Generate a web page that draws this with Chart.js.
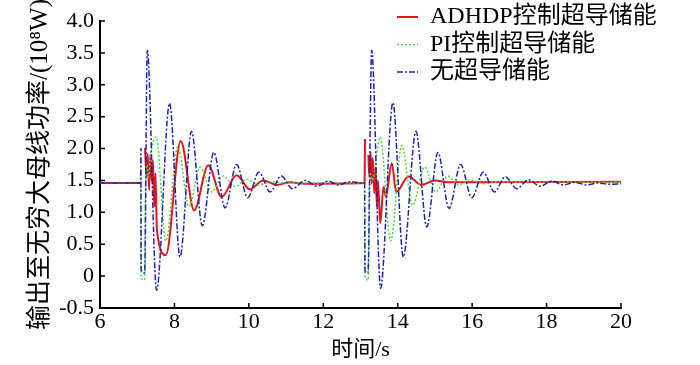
<!DOCTYPE html>
<html>
<head>
<meta charset="utf-8">
<script src="https://cdn.jsdelivr.net/npm/chart.js"></script>
<style>
  html, body { margin: 0; padding: 0; background: #fff; }
</style>
</head>
<body>
<canvas id="powerChart" width="700" height="365"></canvas>
<script>
// time (s) / power (1e8 W), peaks and troughs mostly
// null = red hidden under the others while the fault lasts
const redTime = [6, 7.09, 7.095, 7.21, 7.25, 7.28, 7.32, 7.35, 7.39, 7.42, 7.46, 7.49, 7.53, 7.77, 8.17, 8.53, 8.91, 9.27, 9.67, 10.03, 10.38, 10.75, 11.1, 11.5,
  13.11, 13.12, 13.125, 13.21, 13.24, 13.27, 13.30, 13.33, 13.37, 13.40, 13.44, 13.47, 13.53, 13.62, 13.68, 13.84, 13.96, 14.29, 14.64, 15.0, 15.4, 20];
const redPower = [1.46, 1.46, null, 2.01, 1.56, 1.92, 1.35, 1.90, 1.50, 1.82, 1.09, 1.61, 0.72, 0.33, 2.12, 1.03, 1.74, 1.24, 1.58, 1.36, 1.50, 1.43, 1.47, 1.45,
  1.46, 2.15, null, 1.90, 1.55, 1.95, 1.45, 1.85, 1.30, 1.70, 1.10, 1.50, 0.83, 1.40, 1.25, 1.77, 1.32, 1.56, 1.43, 1.50, 1.47, 1.48];

const greenTime = [6, 7.09, 7.10, 7.20, 7.22, 7.26, 7.30, 7.36, 7.51, 7.77, 8.09, 8.39, 8.69, 9.0, 9.31, 9.63, 9.94, 10.26, 10.6, 11.0,
  13.11, 13.12, 13.21, 13.23, 13.27, 13.32, 13.53, 13.81, 14.11, 14.40, 14.72, 15.02, 15.34, 15.63, 15.95, 16.3, 16.7, 20];
const greenPower = [1.46, 1.46, -0.02, -0.06, 1.2, 1.75, 1.55, 1.9, 2.18, 0.55, 2.03, 1.09, 1.71, 1.32, 1.57, 1.40, 1.52, 1.43, 1.48, 1.46,
  1.46, -0.02, -0.06, 1.2, 1.6, 1.5, 2.18, 0.55, 2.05, 1.11, 1.71, 1.32, 1.57, 1.43, 1.51, 1.45, 1.48, 1.47];

const blueTime = [6, 7.09, 7.10, 7.105, 7.20, 7.27, 7.52, 7.87, 8.15, 8.46, 8.75, 9.06, 9.36, 9.67, 9.97, 10.27, 10.57, 10.87, 11.17, 11.51, 11.83, 12.14, 12.4, 12.72, 13.0,
  13.11, 13.12, 13.20, 13.30, 13.54, 13.87, 14.15, 14.49, 14.78, 15.08, 15.38, 15.69, 15.99, 16.30, 16.60, 16.89, 17.2, 17.51, 17.83, 18.14, 18.45, 18.76, 19.07, 19.38, 19.69, 20];
const bluePower = [1.46, 1.46, 2.0, 0.1, 0.05, 3.54, -0.22, 2.71, 0.30, 2.27, 0.79, 1.94, 1.07, 1.75, 1.23, 1.63, 1.32, 1.57, 1.37, 1.50, 1.41, 1.49, 1.43, 1.48, 1.46,
  1.46, 0.08, 0.05, 3.54, -0.19, 2.72, 0.30, 2.27, 0.77, 1.94, 1.06, 1.75, 1.23, 1.63, 1.32, 1.56, 1.37, 1.51, 1.41, 1.49, 1.43, 1.47, 1.43, 1.46, 1.44, 1.45];

const seriesNames = ["ADHDP控制超导储能", "PI控制超导储能", "无超导储能"];

const fontFamily = '"Liberation Serif", "Times New Roman", "Noto Sans CJK SC", serif';

function toPoints(t, v) {
  return t.map((x, i) => ({ x: x, y: v[i] }));
}

// legend drawn at the top right, inside the plot like the original
const sideLegend = {
  id: "sideLegend",
  afterDraw(chart) {
    const ctx = chart.ctx;
    ctx.save();
    ctx.font = "24px " + fontFamily;
    ctx.textBaseline = "middle";
    ctx.fillStyle = "#000";
    chart.data.datasets.forEach((ds, i) => {
      const y = 17 + i * 27.5;
      ctx.strokeStyle = ds.borderColor;
      ctx.lineWidth = ds.borderWidth;
      ctx.setLineDash(ds.borderDash || []);
      ctx.beginPath();
      ctx.moveTo(397, y);
      ctx.lineTo(418, y);
      ctx.stroke();
      ctx.setLineDash([]);
      ctx.fillText(ds.label, 430, y);
    });
    ctx.restore();
  },
};

// tick marks pointing into the plot
const innerTicks = {
  id: "innerTicks",
  afterDatasetsDraw(chart) {
    const { ctx, chartArea, scales } = chart;
    ctx.save();
    ctx.strokeStyle = "#000";
    ctx.lineWidth = 1.5;
    ctx.beginPath();
    scales.y.ticks.forEach((t) => {
      const y = scales.y.getPixelForValue(t.value);
      ctx.moveTo(chartArea.left, y);
      ctx.lineTo(chartArea.left + 5, y);
    });
    scales.x.ticks.forEach((t) => {
      const x = scales.x.getPixelForValue(t.value);
      ctx.moveTo(x, chartArea.bottom);
      ctx.lineTo(x, chartArea.bottom - 5);
    });
    ctx.stroke();
    ctx.restore();
  },
};

const ctx = document.getElementById("powerChart").getContext("2d");
const powerChart = new Chart(ctx, {
  type: "line",
  data: {
    datasets: [
      {
        label: seriesNames[0],
        data: toPoints(redTime, redPower),
        borderColor: "#e3141c",
        borderWidth: 2,
        order: 2,
      },
      {
        label: seriesNames[1],
        data: toPoints(greenTime, greenPower),
        borderColor: "#45dc3c",
        borderWidth: 1.5,
        borderDash: [2, 2],
        order: 1,
      },
      {
        label: seriesNames[2],
        data: toPoints(blueTime, bluePower),
        borderColor: "#2222b0",
        borderWidth: 1.5,
        borderDash: [6, 2, 2, 2],
        order: 0,
      },
    ],
  },
  options: {
    responsive: false,
    animation: false,
    devicePixelRatio: 1,
    spanGaps: false,
    elements: {
      point: { radius: 0 },
      line: { cubicInterpolationMode: "monotone" },
    },
    layout: {
      padding: { top: 21, right: 79, left: 0, bottom: 0 },
    },
    plugins: {
      legend: { display: false },
      tooltip: { enabled: false },
    },
    scales: {
      x: {
        type: "linear",
        min: 6,
        max: 20,
        grid: { display: false, drawTicks: false },
        border: { display: true, color: "#000", width: 2 },
        ticks: {
          stepSize: 2,
          autoSkip: false,
          maxRotation: 0,
          padding: 1,
          color: "#000",
          font: { family: fontFamily, size: 22 },
        },
        title: {
          display: true,
          text: "时间/s",
          color: "#000",
          font: { family: fontFamily, size: 22 },
          padding: { top: 0, bottom: 2 },
        },
        afterFit(scale) {
          scale.height = 57;
        },
      },
      y: {
        min: -0.5,
        max: 4,
        grid: { display: false, drawTicks: false },
        border: { display: true, color: "#000", width: 2 },
        ticks: {
          stepSize: 0.5,
          autoSkip: false,
          padding: 6,
          color: "#000",
          font: { family: fontFamily, size: 22 },
          callback: (v) => (v === 0 ? "0" : v.toFixed(1)),
        },
        title: {
          display: true,
          text: "输出至无穷大母线功率/(10⁸W)",
          color: "#000",
          font: { family: fontFamily, size: 25 },
          padding: { top: 25, bottom: 0 },
        },
        afterFit(scale) {
          scale.width = 100;
        },
      },
    },
  },
  plugins: [sideLegend, innerTicks],
});
</script>
</body>
</html>
